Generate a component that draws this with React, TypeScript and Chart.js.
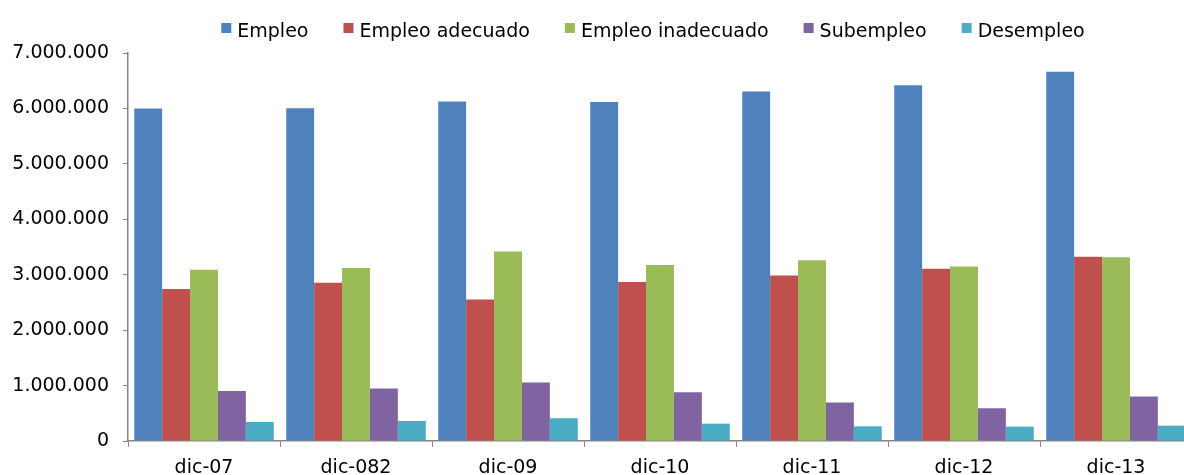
import React, { useEffect, useRef } from "react";
import { Chart, registerables } from "chart.js";

Chart.register(...registerables);

const categories = ["dic-07", "dic-082", "dic-09", "dic-10", "dic-11", "dic-12", "dic-13"];
const empleo = [6000000, 6005000, 6125000, 6115000, 6305000, 6420000, 6660000];
const empleoAdecuado = [2741000, 2855000, 2554000, 2867000, 2988000, 3108000, 3325000];
const empleoInadecuado = [3090000, 3120000, 3420000, 3175000, 3259000, 3150000, 3313000];
const subempleo = [904000, 946000, 1054000, 880000, 693000, 590000, 801000];
const desempleo = [343000, 361000, 410000, 313000, 265000, 259000, 277000];
const seriesNames = ["Empleo", "Empleo adecuado", "Empleo inadecuado", "Subempleo", "Desempleo"];
const seriesColors = ["#4F81BD", "#C0504D", "#9BBB59", "#8064A2", "#4BACC6"];

const FONT = '"DejaVu Sans", "Liberation Sans", Arial, sans-serif';
const AXIS_COLOR = "#868686";

const fmt = (v: number) => String(Math.round(v)).replace(/\B(?=(\d{3})+(?!\d))/g, ".");

const legendPlugin = {
  id: "customLegend",
  afterDraw(chart: any) {
    const ctx = chart.ctx as CanvasRenderingContext2D;
    const box = 10;
    const gap = 6;
    const spacing = 35;
    const center = 653;
    const baseline = 36.5;
    ctx.save();
    ctx.font = `19px ${FONT}`;
    ctx.textBaseline = "alphabetic";
    ctx.textAlign = "left";
    const items = chart.data.datasets.map((ds: any) => ({
      text: ds.label as string,
      color: ds.backgroundColor as string,
      w: ctx.measureText(ds.label).width,
    }));
    const total =
      items.reduce((s: number, it: any) => s + box + gap + it.w, 0) + spacing * (items.length - 1);
    let x = center - total / 2;
    for (const it of items) {
      ctx.fillStyle = it.color;
      ctx.fillRect(x, 23, box, box);
      ctx.fillStyle = "#000";
      ctx.fillText(it.text, x + box + gap, baseline);
      x += box + gap + it.w + spacing;
    }
    ctx.restore();
  },
};

export default function App() {
  const ref = useRef<HTMLCanvasElement | null>(null);

  useEffect(() => {
    if (!ref.current) return;
    const values = [empleo, empleoAdecuado, empleoInadecuado, subempleo, desempleo];
    const chart = new Chart(ref.current, {
      type: "bar",
      data: {
        labels: categories,
        datasets: seriesNames.map((name, i) => ({
          label: name,
          data: values[i],
          backgroundColor: seriesColors[i],
          borderWidth: 0,
          categoryPercentage: 0.918,
          barPercentage: 1,
        })),
      },
      options: {
        responsive: false,
        animation: false,
        devicePixelRatio: 1,
        layout: { padding: { top: 53, right: 8, bottom: 0, left: 0 } },
        plugins: {
          legend: { display: false },
          tooltip: { enabled: false },
          title: { display: false },
        },
        scales: {
          x: {
            afterFit: (scale: any) => {
              scale.height = 34;
            },
            grid: {
              display: true,
              drawOnChartArea: false,
              drawTicks: true,
              tickLength: 6,
              color: AXIS_COLOR,
              offset: true,
            },
            border: { display: true, color: AXIS_COLOR, width: 1.5 },
            ticks: {
              color: "#000",
              font: { family: FONT, size: 19 },
              padding: 10,
              maxRotation: 0,
              autoSkip: false,
            },
          },
          y: {
            min: 0,
            max: 7000000,
            afterFit: (scale: any) => {
              scale.width = 128;
            },
            grid: {
              display: true,
              drawOnChartArea: false,
              drawTicks: true,
              tickLength: 5,
              color: AXIS_COLOR,
            },
            border: { display: true, color: AXIS_COLOR, width: 1.5 },
            ticks: {
              stepSize: 1000000,
              color: "#000",
              font: { family: FONT, size: 19 },
              padding: 14,
              callback: (v: any) => fmt(Number(v)),
            },
          },
        },
      },
      plugins: [legendPlugin],
    });
    return () => chart.destroy();
  }, []);

  return (
    <div
      style={{
        position: "fixed",
        left: 0,
        top: 0,
        width: 1184,
        height: 475,
        overflow: "hidden",
        background: "#fff",
      }}
    >
      <canvas ref={ref} width={1200} height={475} style={{ width: 1200, height: 475, display: "block" }} />
    </div>
  );
}
